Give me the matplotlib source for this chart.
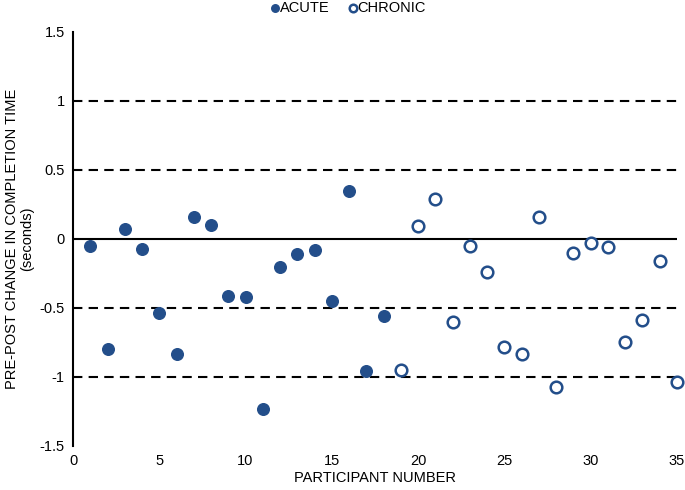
import numpy as np
import matplotlib
matplotlib.use('Agg')
import matplotlib.pyplot as plt

plt.rcParams['font.family'] = ['Liberation Sans', 'DejaVu Sans']

# Participants and pre-post change values (seconds)
acute_x = list(range(1, 19))
acute_y = [-0.05, -0.80, 0.07, -0.07, -0.54, -0.83, 0.16, 0.10, -0.41,
           -0.42, -1.23, -0.20, -0.11, -0.08, -0.45, 0.35, -0.96, -0.56]
chronic_x = list(range(19, 36))
chronic_y = [-0.95, 0.09, 0.29, -0.60, -0.05, -0.24, -0.78, -0.83, 0.16,
             -1.07, -0.10, -0.03, -0.06, -0.75, -0.59, -0.16, -1.04]

ref_lines = [1, 0.5, -0.5, -1]
yticks = [-1.5, -1, -0.5, 0, 0.5, 1, 1.5]
ytick_labels = ['-1.5', '-1', '-0.5', '0', '0.5', '1', '1.5']
xticks = [0, 5, 10, 15, 20, 25, 30, 35]

color = '#234e8a'

fig = plt.figure(figsize=(6.85, 4.9), dpi=100)
ax = fig.add_axes([0.1066, 0.0898, 0.8814, 0.8452])

for y in ref_lines:
    ax.axhline(y, color='black', lw=1.5, ls=(0, (4.5, 3)), zorder=1)
ax.axhline(0, color='black', lw=1.5, zorder=1)

ax.scatter(acute_x, acute_y, s=70, color=color, zorder=3, label='ACUTE',
           clip_on=False)
ax.scatter(chronic_x, chronic_y, s=70, facecolors='white', edgecolors=color,
           linewidths=1.8, zorder=3, label='CHRONIC', clip_on=False)

ax.set_xlim(0, 35)
ax.set_ylim(-1.5, 1.5)
ax.set_xticks(xticks)
ax.set_yticks(yticks)
ax.set_yticklabels(ytick_labels)
ax.tick_params(length=0, labelsize=10.5, pad=6)
for s in ['top', 'right', 'bottom']:
    ax.spines[s].set_visible(False)
ax.spines['left'].set_linewidth(1.5)

ax.set_xlabel('PARTICIPANT NUMBER', fontsize=10.5, labelpad=2)
ax.set_ylabel('PRE-POST CHANGE IN COMPLETION TIME\n(seconds)', fontsize=10.5,
              linespacing=1.1, labelpad=4)

fig.legend(loc='upper center', bbox_to_anchor=(0.505, 1.025), ncol=2,
           frameon=False, fontsize=10.5, handletextpad=-0.3,
           handlelength=1.2, columnspacing=1.0, markerscale=0.65)

fig.savefig('out.png', dpi=100)
